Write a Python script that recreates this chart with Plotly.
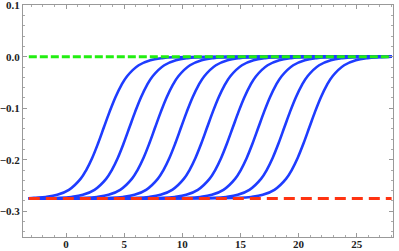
import plotly.graph_objects as go

# Curve centres (x where each sigmoid is half-way)
centers = [3.25, 5.45, 7.66, 9.89, 12.13, 14.34, 16.54, 18.77, 20.92]
# Common sigmoid profile: offset from centre -> value
profile_dx = [-6, -5, -4, -3, -2, -1.5, -1, -0.5, 0, 0.5, 1, 1.5, 2, 3, 4, 5, 6]
profile_y = [-0.2739, -0.2722, -0.2682, -0.2585, -0.2372, -0.2195, -0.1965, -0.1685,
             -0.1375, -0.1065, -0.0785, -0.0555, -0.0378, -0.0165, -0.0068, -0.0028, -0.0011]
x_start, x_end = -3.2, 28.0
upper_level = 0.0
lower_level = -0.275

x_ticks = [0, 5, 10, 15, 20, 25]
y_ticks = [0.1, 0.0, -0.1, -0.2, -0.3]
y_ticktext = ["0.1", "0.0", "\u22120.1", "\u22120.2", "\u22120.3"]

fig = go.Figure()
for c in centers:
    xs = [x_start]
    ys = [lower_level]
    for dx, yv in zip(profile_dx, profile_y):
        xv = c + dx
        if x_start < xv < x_end:
            xs.append(xv)
            ys.append(yv)
    xs.append(x_end)
    ys.append(upper_level)
    fig.add_trace(go.Scatter(x=xs, y=ys, mode="lines", line_shape="spline",
                             line=dict(color="rgb(30,60,255)", width=2.6),
                             hoverinfo="skip", showlegend=False))

fig.add_trace(go.Scatter(x=[x_start, x_end], y=[upper_level, upper_level], mode="lines",
                         line=dict(color="#22ee11", width=3, dash="8px,3px"),
                         showlegend=False))
fig.add_trace(go.Scatter(x=[x_start, x_end], y=[lower_level, lower_level], mode="lines",
                         line=dict(color="#ff3311", width=3, dash="11px,6px"),
                         showlegend=False))

tickfont = dict(family="Liberation Serif", size=11, color="#222", weight="bold")
fig.update_layout(
    width=399, height=251,
    margin=dict(l=23, r=6, t=5, b=14),
    plot_bgcolor="white", paper_bgcolor="white",
    xaxis=dict(range=[-3.7, 28.12], tickvals=x_ticks, ticks="inside", ticklen=4,
               tickcolor="#999", showline=True, linecolor="#999", linewidth=1,
               mirror="allticks", showgrid=False, zeroline=False, tickfont=tickfont,
               automargin=False, ticklabelstandoff=-3, ticklabeloverflow="allow",
               minor=dict(dtick=1, ticks="inside", ticklen=2, tickcolor="#aaa", showgrid=False)),
    yaxis=dict(range=[-0.35, 0.1005], tickvals=y_ticks, ticktext=y_ticktext, ticks="inside",
               ticklen=4, tickcolor="#999", showline=True, linecolor="#999", linewidth=1,
               mirror="allticks", showgrid=False, zeroline=False, tickfont=tickfont,
               automargin=False, ticklabeloverflow="allow",
               minor=dict(dtick=0.02, tick0=0, ticks="inside", ticklen=2, tickcolor="#aaa", showgrid=False)),
)
fig.write_html("out.html", config={"displayModeBar": False},
               post_script="document.body.style.margin='0';")
